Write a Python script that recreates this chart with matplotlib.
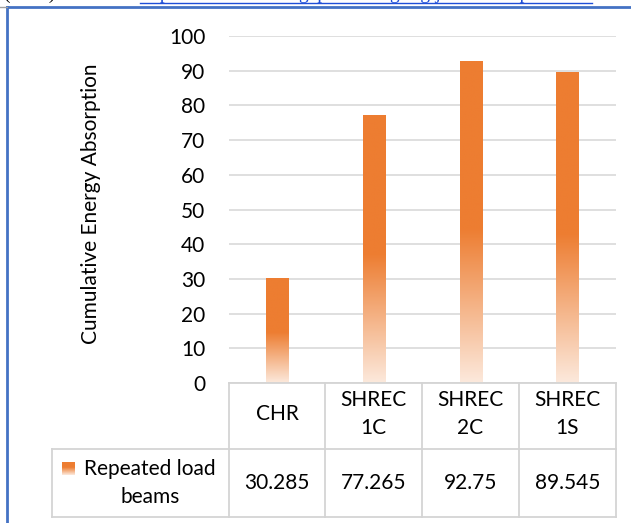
import numpy as np
import matplotlib.pyplot as plt
from matplotlib.colors import to_rgba
from matplotlib.lines import Line2D

# chart data
categories = ['CHR', 'SHREC\n1C', 'SHREC\n2C', 'SHREC\n1S']
values = [30.285, 77.265, 92.75, 89.545]
value_labels = ['30.285', '77.265', '92.75', '89.545']
series_name = 'Repeated load\nbeams'
y_ticks = [0, 10, 20, 30, 40, 50, 60, 70, 80, 90, 100]

plt.rcParams['font.family'] = ['Lato', 'DejaVu Sans']

W, H = 631, 523
fig = plt.figure(figsize=(W / 100, H / 100), dpi=100)

def fx(px):
  return px / W

def fy(py):
  return 1 - py / H

# plot area in pixels
left, right, top, bottom = 229, 616, 36, 383
ax = fig.add_axes([fx(left), fy(bottom), fx(right - left), (bottom - top) / H])

orange = np.array(to_rgba('#ED7D31'))
pale = np.array(to_rgba('#FCE9DC'))

def gradient(n=200, solid=0.52):
  # row 0 = bottom of bar, last row = top
  f = np.linspace(1, 0, n)  # fraction from top
  t = np.clip((f - solid) / (1 - solid), 0, 1)[:, None]
  cols = orange * (1 - t) + pale * t
  return cols[:, None, :]

x = np.arange(len(values))
bars = ax.bar(x, values, width=0.23, facecolor='none', edgecolor='none', zorder=3)
for b in bars:
  x0 = b.get_x()
  im = ax.imshow(gradient(), extent=[x0, x0 + b.get_width(), 0, b.get_height()],
                 origin='lower', aspect='auto', zorder=3)
  im.set_clip_path(b)

ax.set_xlim(-0.5, len(values) - 0.5)
ax.set_ylim(0, 100)
ax.set_yticks(y_ticks)
ax.set_yticklabels([str(t) for t in y_ticks], fontsize=15)
ax.tick_params(axis='y', length=0, pad=17)
ax.set_xticks([])
ax.yaxis.grid(True, color='#D9D9D9', linewidth=1.2)
ax.set_axisbelow(True)
for s in ax.spines.values():
  s.set_visible(False)

fig.text(fx(91), fy(204), 'Cumulative Energy Absorption', rotation=90,
         ha='center', va='center', fontsize=15)

# data table under the chart
grid_c = '#D4D4D4'
col_edges = [229, 325, 422, 519, 616]
row_top, row_mid, row_bot = 383, 449, 517
label_left = 52
fs = 15

def hline(y, x0, x1):
  fig.add_artist(Line2D([fx(x0), fx(x1)], [fy(y), fy(y)], color=grid_c, lw=1.3))

def vline(xp, y0, y1):
  fig.add_artist(Line2D([fx(xp), fx(xp)], [fy(y0), fy(y1)], color=grid_c, lw=1.3))

hline(row_top, col_edges[0], col_edges[-1])
hline(row_mid, label_left, col_edges[-1])
hline(row_bot, label_left, col_edges[-1])
for xe in col_edges:
  vline(xe, row_top, row_bot)
vline(label_left, row_mid, row_bot)

for i, (cat, lab) in enumerate(zip(categories, value_labels)):
  cx = (col_edges[i] + col_edges[i + 1]) / 2
  fig.text(fx(cx), fy(414), cat, ha='center', va='center',
           fontsize=fs, linespacing=1.45)
  fig.text(fx(cx), fy(483), lab, ha='center', va='center', fontsize=fs)

fig.text(fx(150), fy(483), series_name, ha='center', va='center',
         fontsize=fs, linespacing=1.45)
key = fig.add_axes([fx(62), fy(475), fx(13), 13 / H])
key.imshow(gradient(50, 0.4), aspect='auto', origin='lower')
key.axis('off')

# page frame and clipped header line
blue = '#4472C4'
fig.add_artist(Line2D([fx(7), fx(W)], [fy(7), fy(7)], color=blue, lw=2))
fig.add_artist(Line2D([fx(7), fx(7)], [fy(7), fy(H)], color=blue, lw=2))
fig.add_artist(Line2D([0, fx(7)], [fy(7), fy(7)], color='#A0A0A0', lw=1))
fig.text(fx(3), fy(-1), '(2023)', family='Liberation Serif', fontsize=14, va='baseline')
fig.text(fx(140), fy(-1), 'http://www.knowledgepublishing.org/journals.asp',
         family='Liberation Serif', fontsize=14, color='#1F4FD8', va='baseline')
fig.add_artist(Line2D([fx(140), fx(592)], [fy(2.5), fy(2.5)], color='#1F4FD8', lw=1))

fig.savefig('out.png', dpi=100)
